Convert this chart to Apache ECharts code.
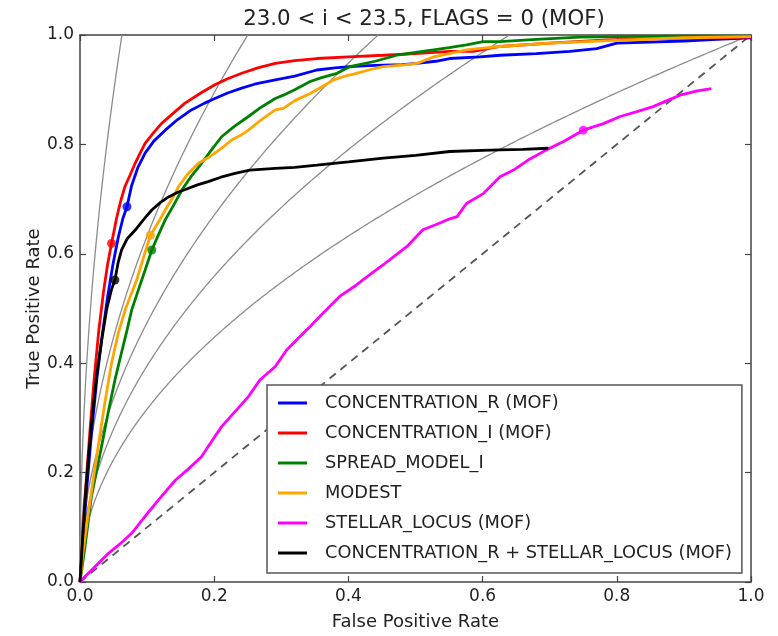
<!DOCTYPE html>
<html>
<head>
<meta charset="utf-8">
<script src="https://cdn.jsdelivr.net/npm/echarts@6/dist/echarts.min.js"></script>
<style>
html,body{margin:0;padding:0;background:#fff;}
#chart{width:778px;height:636px;}
</style>
</head>
<body>
<div id="chart"></div>
<script>
// ---------- data ----------
const titleText = '23.0 < i < 23.5, FLAGS = 0 (MOF)';
const xTicks = [0.0, 0.2, 0.4, 0.6, 0.8, 1.0];
const yTicks = [0.0, 0.2, 0.4, 0.6, 0.8, 1.0];

const seriesNames = [
  'CONCENTRATION_R (MOF)',
  'CONCENTRATION_I (MOF)',
  'SPREAD_MODEL_I',
  'MODEST',
  'STELLAR_LOCUS (MOF)',
  'CONCENTRATION_R + STELLAR_LOCUS (MOF)'
];
const seriesColors = ['#0000ff', '#ff0000', '#008000', '#ffa500', '#ff00ff', '#000000'];

const concRFpr = [0, 0.004, 0.01, 0.017, 0.025, 0.033, 0.041, 0.049, 0.057, 0.064, 0.070, 0.077, 0.086, 0.097, 0.11, 0.127, 0.145, 0.166, 0.185, 0.201, 0.22, 0.241, 0.26, 0.291, 0.32, 0.353, 0.38, 0.402, 0.43, 0.452, 0.48, 0.502, 0.53, 0.551, 0.596, 0.626, 0.68, 0.73, 0.77, 0.80, 0.85, 0.90, 0.95, 1.0];
const concRTpr = [0, 0.07, 0.17, 0.27, 0.37, 0.45, 0.52, 0.58, 0.63, 0.665, 0.686, 0.725, 0.757, 0.784, 0.806, 0.826, 0.845, 0.863, 0.875, 0.884, 0.894, 0.903, 0.910, 0.918, 0.925, 0.936, 0.940, 0.942, 0.944, 0.945, 0.946, 0.948, 0.952, 0.957, 0.960, 0.963, 0.966, 0.970, 0.975, 0.985, 0.987, 0.989, 0.992, 0.995];

const concIFpr = [0, 0.004, 0.009, 0.015, 0.021, 0.028, 0.035, 0.041, 0.047, 0.055, 0.061, 0.067, 0.075, 0.082, 0.09, 0.097, 0.11, 0.122, 0.14, 0.156, 0.18, 0.201, 0.22, 0.241, 0.265, 0.291, 0.32, 0.353, 0.4, 0.452, 0.5, 0.551, 0.586, 0.626, 0.7, 0.785, 0.85, 0.9, 1.0];
const concITpr = [0, 0.08, 0.18, 0.28, 0.37, 0.46, 0.53, 0.58, 0.619, 0.668, 0.698, 0.723, 0.745, 0.765, 0.785, 0.802, 0.822, 0.839, 0.858, 0.875, 0.894, 0.909, 0.92, 0.930, 0.94, 0.948, 0.953, 0.957, 0.96, 0.963, 0.966, 0.970, 0.970, 0.979, 0.985, 0.991, 0.993, 0.994, 0.996];

const spreadFpr = [0, 0.0075, 0.017, 0.025, 0.032, 0.042, 0.052, 0.062, 0.07, 0.077, 0.087, 0.097, 0.107, 0.117, 0.127, 0.14, 0.152, 0.166, 0.181, 0.196, 0.211, 0.23, 0.251, 0.27, 0.291, 0.303, 0.32, 0.343, 0.36, 0.383, 0.402, 0.44, 0.472, 0.5, 0.527, 0.55, 0.576, 0.601, 0.626, 0.68, 0.745, 0.8, 0.9, 1.0];
const spreadTpr = [0, 0.065, 0.156, 0.205, 0.247, 0.31, 0.369, 0.42, 0.46, 0.497, 0.534, 0.57, 0.607, 0.635, 0.662, 0.69, 0.717, 0.742, 0.765, 0.79, 0.814, 0.833, 0.851, 0.868, 0.884, 0.89, 0.9, 0.915, 0.922, 0.930, 0.942, 0.952, 0.963, 0.968, 0.973, 0.977, 0.982, 0.988, 0.988, 0.992, 0.996, 0.997, 0.998, 0.998];

const modestFpr = [0, 0.004, 0.0124, 0.02, 0.027, 0.036, 0.047, 0.057, 0.068, 0.0845, 0.095, 0.105, 0.117, 0.127, 0.137, 0.147, 0.16, 0.176, 0.19, 0.201, 0.214, 0.226, 0.24, 0.251, 0.27, 0.291, 0.303, 0.32, 0.343, 0.36, 0.378, 0.395, 0.412, 0.43, 0.452, 0.48, 0.502, 0.527, 0.55, 0.576, 0.6, 0.626, 0.7, 0.8, 0.9, 1.0];
const modestTpr = [0, 0.05, 0.126, 0.19, 0.247, 0.32, 0.40, 0.455, 0.50, 0.552, 0.595, 0.634, 0.658, 0.68, 0.70, 0.723, 0.745, 0.765, 0.775, 0.784, 0.796, 0.808, 0.817, 0.826, 0.845, 0.863, 0.866, 0.88, 0.893, 0.905, 0.918, 0.925, 0.930, 0.936, 0.942, 0.945, 0.948, 0.960, 0.966, 0.973, 0.976, 0.979, 0.985, 0.99, 0.995, 0.997];

const locusFpr = [0, 0.0075, 0.02, 0.042, 0.06, 0.077, 0.095, 0.117, 0.142, 0.16, 0.181, 0.195, 0.211, 0.23, 0.251, 0.268, 0.291, 0.308, 0.325, 0.343, 0.365, 0.387, 0.412, 0.43, 0.452, 0.47, 0.487, 0.511, 0.53, 0.551, 0.562, 0.576, 0.601, 0.626, 0.646, 0.67, 0.695, 0.72, 0.75, 0.78, 0.805, 0.83, 0.854, 0.875, 0.894, 0.92, 0.941];
const locusTpr = [0, 0.01, 0.025, 0.052, 0.07, 0.089, 0.117, 0.150, 0.186, 0.205, 0.229, 0.255, 0.284, 0.31, 0.339, 0.369, 0.394, 0.424, 0.445, 0.467, 0.495, 0.522, 0.543, 0.56, 0.580, 0.597, 0.613, 0.644, 0.653, 0.664, 0.668, 0.692, 0.710, 0.741, 0.753, 0.773, 0.790, 0.805, 0.826, 0.838, 0.851, 0.86, 0.869, 0.88, 0.890, 0.898, 0.902];

const comboFpr = [0, 0.003, 0.007, 0.012, 0.018, 0.025, 0.032, 0.04, 0.047, 0.052, 0.057, 0.062, 0.07, 0.082, 0.095, 0.107, 0.12, 0.132, 0.145, 0.156, 0.175, 0.191, 0.21, 0.231, 0.253, 0.291, 0.32, 0.353, 0.4, 0.452, 0.5, 0.551, 0.6, 0.626, 0.66, 0.698];
const comboTpr = [0, 0.06, 0.14, 0.22, 0.30, 0.38, 0.44, 0.50, 0.535, 0.552, 0.585, 0.607, 0.627, 0.643, 0.663, 0.680, 0.694, 0.704, 0.712, 0.717, 0.726, 0.732, 0.740, 0.747, 0.753, 0.756, 0.758, 0.762, 0.768, 0.775, 0.78, 0.787, 0.789, 0.790, 0.791, 0.793];

// single highlighted operating point on each curve
const markerFpr = [0.070, 0.047, 0.107, 0.105, 0.750, 0.052];
const markerTpr = [0.686, 0.619, 0.607, 0.634, 0.826, 0.552];

// chance line
const diagonalFpr = [0, 1];
const diagonalTpr = [0, 1];

// grey reference curves TPR = c * sqrt(FPR)
const isoCurveCoefficients = [1, 1.25, 1.5, 2, 4];

// ---------- build chart ----------
function zip(xs, ys) { return xs.map((x, i) => [x, ys[i]]); }
const curveFpr = [concRFpr, concIFpr, spreadFpr, modestFpr, locusFpr, comboFpr];
const curveTpr = [concRTpr, concITpr, spreadTpr, modestTpr, locusTpr, comboTpr];

const FONT = 'DejaVu Sans';
const series = [];

isoCurveCoefficients.forEach((c, k) => {
  const fmax = Math.min(1, 1 / (c * c));
  const pts = [];
  for (let t = 0; t <= 300; t++) {
    const f = fmax * Math.pow(t / 300, 2);
    pts.push([f, c * Math.sqrt(f)]);
  }
  series.push({
    name: 'iso' + k, type: 'line', data: pts, showSymbol: false, silent: true,
    lineStyle: { color: '#8c8c8c', width: 1.3 }, z: 1
  });
});

series.push({
  name: 'diag', type: 'line', data: zip(diagonalFpr, diagonalTpr), showSymbol: false, silent: true,
  lineStyle: { color: '#555', width: 1.8, type: [8, 6] }, z: 2
});

seriesNames.forEach((n, i) => {
  series.push({
    name: n, type: 'line', data: zip(curveFpr[i], curveTpr[i]), showSymbol: false,
    lineStyle: { color: seriesColors[i], width: 2.8 }, itemStyle: { color: seriesColors[i] },
    z: 3 + i
  });
});

series.push({
  name: 'markers', type: 'scatter', symbolSize: 9, z: 10,
  data: markerFpr.map((x, i) => ({ value: [x, markerTpr[i]], itemStyle: { color: seriesColors[i] } }))
});

const axisLine = { show: true, onZero: false, lineStyle: { color: '#444', width: 1.5 } };
const axisTick = { show: true, inside: true, length: 6, lineStyle: { color: '#444', width: 1.2 } };
const labelStyle = { fontFamily: FONT, fontSize: 17, color: '#222' };
const nameStyle = { fontFamily: FONT, fontSize: 18, color: '#222' };

const option = {
  animation: false,
  backgroundColor: '#fff',
  title: {
    text: titleText, left: 419, top: 4, textAlign: 'center',
    textStyle: { fontFamily: FONT, fontSize: 21.3, fontWeight: 'normal', color: '#222' }
  },
  grid: { left: 80, right: 27, top: 35, bottom: 54, containLabel: false },
  legend: {
    data: seriesNames, orient: 'vertical', left: 267, top: 385,
    icon: 'rect', itemWidth: 29, itemHeight: 3, itemGap: 10,
    padding: [8, 10, 10, 11], borderColor: '#555', borderWidth: 1.5, backgroundColor: '#fff',
    selectedMode: false,
    textStyle: { fontFamily: FONT, fontSize: 17.8, color: '#222', lineHeight: 20, padding: [0, 0, 0, 13] }
  },
  xAxis: [
    {
      type: 'value', min: xTicks[0], max: xTicks[xTicks.length - 1], interval: 0.2, position: 'bottom',
      axisLine, axisTick, splitLine: { show: false },
      axisLabel: Object.assign({ margin: 6, formatter: v => v.toFixed(1) }, labelStyle),
      name: 'False Positive Rate', nameLocation: 'middle', nameGap: 31, nameMoveOverlap: false,
      nameTextStyle: nameStyle
    },
    {
      type: 'value', min: 0, max: 1, interval: 0.2, position: 'top',
      axisLine, axisTick, splitLine: { show: false }, axisLabel: { show: false }
    }
  ],
  yAxis: [
    {
      type: 'value', min: yTicks[0], max: yTicks[yTicks.length - 1], interval: 0.2, position: 'left',
      axisLine, axisTick, splitLine: { show: false },
      axisLabel: Object.assign({ margin: 6, formatter: v => v.toFixed(1) }, labelStyle),
      name: 'True Positive Rate', nameLocation: 'middle', nameGap: 37, nameMoveOverlap: false,
      nameTextStyle: nameStyle
    },
    {
      type: 'value', min: 0, max: 1, interval: 0.2, position: 'right',
      axisLine, axisTick, splitLine: { show: false }, axisLabel: { show: false }
    }
  ],
  series
};

const chart = echarts.init(document.getElementById('chart'), null, { renderer: 'canvas' });
chart.setOption(option);
</script>
</body>
</html>
